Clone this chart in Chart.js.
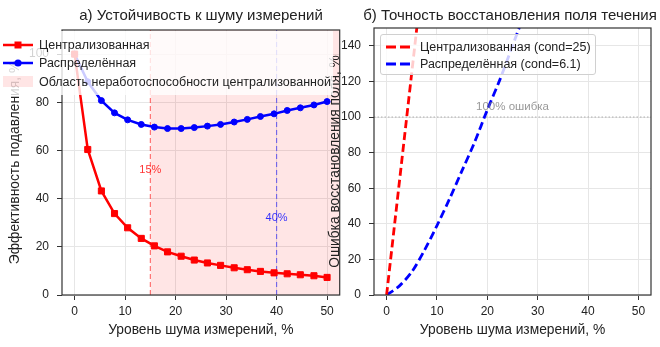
<!DOCTYPE html>
<html>
<head>
<meta charset="utf-8">
<script src="https://cdn.jsdelivr.net/npm/chart.js@4.4.0/dist/chart.umd.min.js"></script>
<style>
  body { margin: 0; background: #fff; font-family: "Liberation Sans", Arial, sans-serif; }
  #wrap { position: relative; width: 660px; height: 347px; overflow: hidden; }
  canvas { position: absolute; top: 0; }
  #leftChart { left: 0; }
  #rightChart { left: 320px; }
  .title { position: absolute; top: 6px; font-size: 15px; line-height: 17px; color: #222; white-space: nowrap; transform: translateX(-50%); }
  .legend { position: absolute; font-size: 12.5px; color: #222; }
  .legend .row { position: absolute; left: 0; height: 18px; line-height: 18px; white-space: nowrap; }
  .legend svg { position: absolute; top: 0; }
  .legend span { position: absolute; top: 0; }
</style>
</head>
<body>
<div id="wrap">
  <canvas id="leftChart" width="345" height="347"></canvas>
  <canvas id="rightChart" width="340" height="347"></canvas>
  <div class="title" style="left:201px">а) Устойчивость к шуму измерений</div>
  <div class="title" style="left:510px">б) Точность восстановления поля течения</div>
  <div class="legend" id="legendLeft" style="left:0; top:31px; width:333px; height:64px; background:rgba(255,255,255,0.8)"></div>
  <div class="legend" id="legendRight" style="left:380px; top:34px; width:214px; height:39px; background:rgba(255,255,255,0.8); border:1px solid #d0d0d0; border-radius:3px"></div>
</div>
<script>
// a) efficiency vs noise
const noise = [0, 2.6, 5.3, 7.9, 10.5, 13.2, 15.8, 18.4, 21.1, 23.7, 26.3, 28.9, 31.6, 34.2, 36.8, 39.5, 42.1, 44.7, 47.4, 50];
const centralEff = [100, 60.4, 43.2, 33.8, 27.9, 23.5, 20.4, 17.9, 16.1, 14.5, 13.3, 12.3, 11.3, 10.5, 9.8, 9.2, 8.8, 8.4, 8.0, 7.3];
const distribEff = [100, 88.5, 80.7, 75.6, 72.7, 70.8, 69.7, 69.1, 69.1, 69.5, 70.1, 70.8, 71.8, 72.9, 74.1, 75.2, 76.6, 77.7, 78.9, 80.3];
const failZone = [15, 55];
const thresholds = [15, 40];
const thresholdLabels = ['15%', '40%'];
const thresholdLabelY = [52, 32];

// b) reconstruction error vs noise
const noiseCentral = [0, 2, 4, 6, 8];
const errCentral = [0, 50, 100, 150, 200];
const noiseDistrib = [0, 2.5, 5, 7.5, 10, 12.5, 15, 17.5, 20, 22.5, 25, 27.5];
const errDistrib = [0, 5, 13, 25, 39, 54, 70, 86, 104, 121, 140, 159];
const errLimit = 100;

const xTicks = [0, 10, 20, 30, 40, 50];
const effTicks = [0, 20, 40, 60, 80, 100];
const errTicks = [0, 20, 40, 60, 80, 100, 120, 140];

Chart.defaults.font.family = '"Liberation Sans", Arial, sans-serif';
Chart.defaults.color = '#222';

const zip = (xs, ys) => xs.map((x, i) => ({x: x, y: ys[i]}));

const framePlugin = {
  id: 'frame',
  afterDatasetsDraw(chart) {
    const {ctx, chartArea: a} = chart;
    ctx.save();
    ctx.strokeStyle = '#333';
    ctx.lineWidth = 1.2;
    ctx.strokeRect(a.left, a.top, a.right - a.left, a.bottom - a.top);
    ctx.restore();
  }
};

const notesPlugin = {
  id: 'notes',
  afterDatasetsDraw(chart, args, opts) {
    const ctx = chart.ctx;
    ctx.save();
    (opts.items || []).forEach(n => {
      ctx.font = n.size + 'px "Liberation Sans", Arial, sans-serif';
      ctx.fillStyle = n.color;
      ctx.textAlign = 'center';
      ctx.textBaseline = 'middle';
      ctx.fillText(n.text, chart.scales.x.getPixelForValue(n.x), chart.scales.y.getPixelForValue(n.y));
    });
    ctx.restore();
  }
};

function axes(yMax, yTicks, yWidth, yTitle) {
  return {
    x: {
      type: 'linear', min: -2.5, max: 52.5,
      afterBuildTicks: s => { s.ticks = xTicks.map(v => ({value: v})); },
      afterFit: s => { s.height = 52; },
      grid: {color: '#e6e6e6', tickColor: '#333', tickLength: 5},
      border: {display: false},
      ticks: {font: {size: 12}, padding: 4, maxRotation: 0},
      title: {display: true, text: 'Уровень шума измерений, %', font: {size: 13.8}, padding: {top: 0, bottom: 9}}
    },
    y: {
      min: 0, max: yMax,
      afterBuildTicks: s => { s.ticks = yTicks.map(v => ({value: v})); },
      afterFit: s => { s.width = yWidth; },
      grid: {color: '#e6e6e6', tickColor: '#333', tickLength: 5},
      border: {display: false},
      ticks: {font: {size: 12}, padding: 8},
      title: {display: true, text: yTitle, font: {size: 13.8}, padding: {top: 7, bottom: 0}}
    }
  };
}

new Chart(document.getElementById('leftChart'), {
  type: 'line',
  data: {
    datasets: [
      {
        label: 'Централизованная',
        data: zip(noise, centralEff),
        borderColor: '#ff0000', backgroundColor: '#ff0000',
        borderWidth: 2.5, pointStyle: 'rect', pointRadius: 4.3, pointBorderWidth: 1,
        order: 0
      },
      {
        label: 'Распределённая',
        data: zip(noise, distribEff),
        borderColor: '#0000ff', backgroundColor: '#0000ff',
        borderWidth: 2.5, pointStyle: 'circle', pointRadius: 3, pointBorderWidth: 1,
        order: 1
      },
      {
        label: 'Область неработоспособности централизованной',
        data: zip(failZone, [110, 110]),
        borderWidth: 0, pointRadius: 0,
        backgroundColor: 'rgba(255, 0, 0, 0.1)', fill: 'origin',
        order: 5
      },
      {
        label: 'threshold central',
        data: zip([thresholds[0], thresholds[0]], [0, 110]),
        borderColor: 'rgba(255, 0, 0, 0.55)', borderWidth: 1.2, borderDash: [5, 3], pointRadius: 0,
        order: 3
      },
      {
        label: 'threshold distributed',
        data: zip([thresholds[1], thresholds[1]], [0, 110]),
        borderColor: 'rgba(0, 0, 255, 0.5)', borderWidth: 1.2, borderDash: [5, 3], pointRadius: 0,
        order: 3
      }
    ]
  },
  options: {
    responsive: false,
    animation: false,
    layout: {padding: {top: 30, right: 5, left: 0, bottom: 0}},
    plugins: {
      legend: {display: false},
      tooltip: {enabled: false},
      notes: {items: [
        {text: thresholdLabels[0], x: thresholds[0], y: thresholdLabelY[0], color: 'rgba(255, 0, 0, 0.8)', size: 11},
        {text: thresholdLabels[1], x: thresholds[1], y: thresholdLabelY[1], color: 'rgba(0, 0, 255, 0.8)', size: 11}
      ]}
    },
    scales: axes(110, effTicks, 62, 'Эффективность подавления, %')
  },
  plugins: [framePlugin, notesPlugin]
});

new Chart(document.getElementById('rightChart'), {
  type: 'line',
  data: {
    datasets: [
      {
        label: 'Централизованная (cond=25)',
        data: zip(noiseCentral, errCentral),
        borderColor: '#ff0000', borderWidth: 2.8, borderDash: [8, 4], pointRadius: 0
      },
      {
        label: 'Распределённая (cond=6.1)',
        data: zip(noiseDistrib, errDistrib),
        borderColor: '#0000ff', borderWidth: 2.8, borderDash: [8, 4], pointRadius: 0, tension: 0.3
      },
      {
        label: '100% ошибка',
        data: zip([-2.5, 52.5], [errLimit, errLimit]),
        borderColor: 'rgba(128, 128, 128, 0.6)', borderWidth: 1, borderDash: [1.5, 2], pointRadius: 0
      }
    ]
  },
  options: {
    responsive: false,
    animation: false,
    layout: {padding: {top: 28, right: 9, left: 0, bottom: 0}},
    plugins: {
      legend: {display: false},
      tooltip: {enabled: false},
      notes: {items: [
        {text: '100% ошибка', x: 25, y: errLimit + 5.5, color: 'rgba(128, 128, 128, 0.8)', size: 11.5}
      ]}
    },
    scales: axes(150, errTicks, 54, 'Ошибка восстановления поля, %')
  },
  plugins: [framePlugin, notesPlugin]
});

// legends as html, built from the dataset styles
function addRow(box, y, sample, text, textX) {
  const row = document.createElement('div');
  row.className = 'row';
  row.style.top = y + 'px';
  row.innerHTML = sample + '<span style="left:' + textX + 'px">' + text + '</span>';
  box.appendChild(row);
}
const L = document.getElementById('legendLeft');
addRow(L, 5, '<svg width="40" height="18" style="left:3px"><line x1="0" y1="9" x2="30" y2="9" stroke="#ff0000" stroke-width="2.5"/><rect x="11.5" y="5.5" width="7" height="7" fill="#ff0000"/></svg>', 'Централизованная', 39);
addRow(L, 23, '<svg width="40" height="18" style="left:3px"><line x1="0" y1="9" x2="30" y2="9" stroke="#0000ff" stroke-width="2.5"/><circle cx="15" cy="9" r="3.6" fill="#0000ff"/></svg>', 'Распределённая', 39);
addRow(L, 42, '<svg width="40" height="18" style="left:3px"><rect x="0" y="3" width="30" height="11" fill="rgba(255,0,0,0.1)"/></svg>', 'Область неработоспособности централизованной', 39);
const R = document.getElementById('legendRight');
addRow(R, 3, '<svg width="34" height="18" style="left:5px"><line x1="0" y1="9" x2="28" y2="9" stroke="#ff0000" stroke-width="2.8" stroke-dasharray="10,4"/></svg>', 'Централизованная (cond=25)', 39);
addRow(R, 20, '<svg width="34" height="18" style="left:5px"><line x1="0" y1="9" x2="28" y2="9" stroke="#0000ff" stroke-width="2.8" stroke-dasharray="10,4"/></svg>', 'Распределённая (cond=6.1)', 39);
</script>
</body>
</html>
